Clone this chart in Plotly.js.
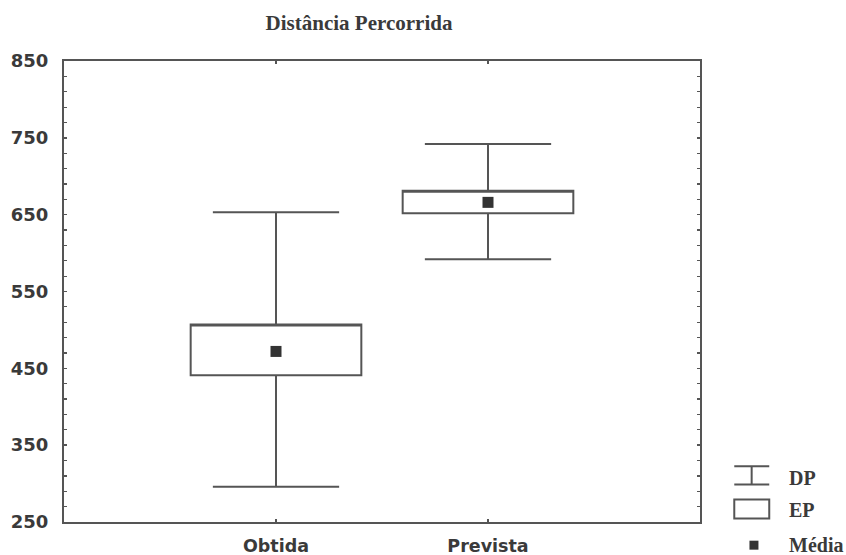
<!DOCTYPE html>
<html>
<head>
<meta charset="utf-8">
<script src="https://cdn.plot.ly/plotly-3.0.1.min.js"></script>
<style>html,body{margin:0;padding:0;background:#fff;}#chart{width:846px;height:555px;}</style>
</head>
<body>
<div id="chart"></div>
<script>
// Data
var categories = ['Obtida', 'Prevista'];
var means  = [472, 666];        // Média
var seLow  = [441, 652];        // Média - EP
var seHigh = [507, 681];        // Média + EP
var sdLow  = [296, 592];        // Média - DP
var sdHigh = [653, 742];        // Média + DP
var yTicks = [250, 350, 450, 550, 650, 750, 850];
var legendLabels = ['DP', 'EP', 'Média'];

var lineCol = '#555555';
var textCol = '#3a3a3a';

var boxTrace = {
  type: 'box',
  x: categories,
  q1: seLow,
  q3: seHigh,
  median: seHigh,
  lowerfence: sdLow,
  upperfence: sdHigh,
  width: 0.805,
  whiskerwidth: 0.74,
  fillcolor: '#ffffff',
  line: {color: lineCol, width: 2},
  boxpoints: false,
  hoverinfo: 'skip',
  showlegend: false
};

var meanTrace = {
  type: 'scatter',
  mode: 'markers',
  x: categories,
  y: means,
  marker: {symbol: 'square', size: 11, color: '#333333'},
  showlegend: false,
  hoverinfo: 'skip'
};

// plot area in pixels: left 63.5, right 700, top 61, bottom 522.5
var L = 63.5, R = 700, T = 61, B = 522.5;
function px(x) { return (x - L) / (R - L); }
function py(y) { return (B - y) / (B - T); }

var shapes = [
  // DP icon (I-beam)
  {type:'line', xref:'paper', yref:'paper', x0:px(734.3), x1:px(769.3), y0:py(466.7), y1:py(466.7), line:{color:lineCol, width:2}},
  {type:'line', xref:'paper', yref:'paper', x0:px(734.3), x1:px(769.3), y0:py(485), y1:py(485), line:{color:lineCol, width:2}},
  {type:'line', xref:'paper', yref:'paper', x0:px(751.7), x1:px(751.7), y0:py(466.7), y1:py(485), line:{color:lineCol, width:2}},
  // EP icon (box)
  {type:'rect', xref:'paper', yref:'paper', x0:px(734.3), x1:px(769.3), y0:py(500), y1:py(519), line:{color:lineCol, width:2}, fillcolor:'#ffffff'},
  // Média icon
  {type:'rect', xref:'paper', yref:'paper', x0:px(749.5), x1:px(758.5), y0:py(541.2), y1:py(550.2), line:{width:0}, fillcolor:'#333333'}
];

var legendY = [478, 510, 545.5];
var annotations = legendLabels.map(function (t, i) {
  return {
    text: '<b>' + t + '</b>', xref: 'paper', yref: 'paper',
    x: px(786.7), y: py(legendY[i]), xanchor: 'left', yanchor: 'middle',
    showarrow: false,
    font: {family: '"Liberation Serif", "Times New Roman", serif', size: 20, color: textCol}
  };
});

var layout = {
  width: 846, height: 555,
  margin: {l: L, r: 846 - R, t: T, b: 555 - B, pad: 0},
  paper_bgcolor: '#ffffff',
  plot_bgcolor: '#ffffff',
  showlegend: false,
  title: {
    text: '<b>Distância Percorrida</b>',
    font: {family: '"Liberation Serif", "Times New Roman", serif', size: 21, color: textCol},
    xref: 'container', x: 359 / 846, xanchor: 'center',
    yref: 'container', y: 1 - 23 / 555, yanchor: 'middle'
  },
  xaxis: {
    type: 'category',
    range: [-1, 2],
    showgrid: false, zeroline: false,
    showline: true, linecolor: lineCol, linewidth: 2, mirror: 'ticks',
    ticks: 'inside', ticklen: 3, tickcolor: lineCol, tickwidth: 1.5,
    ticklabelstandoff: 7,
    tickfont: {family: '"DejaVu Sans", Verdana, sans-serif', size: 17.5, color: textCol, weight: 'bold'}
  },
  yaxis: {
    range: [250, 850],
    tickvals: yTicks,
    showgrid: false, zeroline: false,
    showline: true, linecolor: lineCol, linewidth: 2, mirror: 'ticks',
    ticks: 'inside', ticklen: 3, tickcolor: lineCol, tickwidth: 1.5,
    minor: {dtick: 20, tick0: 250, ticks: 'inside', ticklen: 3, tickcolor: lineCol, tickwidth: 1.2, showgrid: false},
    ticklabelstandoff: 10,
    tickfont: {family: '"DejaVu Sans", Verdana, sans-serif', size: 18, color: textCol, weight: 'bold'}
  },
  shapes: shapes,
  annotations: annotations
};

Plotly.newPlot('chart', [boxTrace, meanTrace], layout, {displayModeBar: false, staticPlot: true});
</script>
</body>
</html>
